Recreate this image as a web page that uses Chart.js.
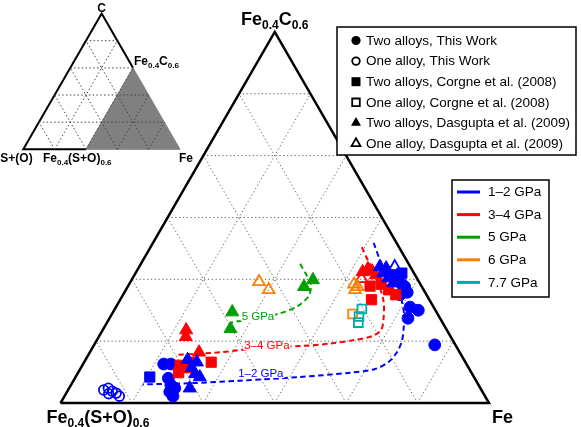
<!DOCTYPE html>
<html lang="en">
<head>
<meta charset="UTF-8">
<title>Fe - C - (S+O) ternary</title>
<script src="https://cdn.jsdelivr.net/npm/chart.js@4/dist/chart.umd.min.js"></script>
<style>
  html, body { margin: 0; padding: 0; background: #fff; }
  #wrap { width: 581px; height: 427px; }
</style>
</head>
<body>
<div id="wrap"><canvas id="tern" width="581" height="427"></canvas></div>
<script>
// compositions, [C, S+O] in at.%
// (apex Fe0.4C0.6 = 60 C, left corner Fe0.4(S+O)0.6 = 60 S+O, right corner = pure Fe)
const twoThis12   = [[6.3,42.4],[6.3,41.4],[4.0,42.9],[2.9,43.1],[1.8,43.8],[1.1,43.7],[2.4,42.8],
                     [19.9,2.8],[19.2,2.6],[18.8,2.4],[17.9,2.5],[17.5,3.7],[15.5,3.3],[15.0,2.4],[13.7,4.5],[9.4,2.9]];
const oneThis12   = [[2.1,52.9],[2.4,52.1],[1.9,51.8],[1.6,51.4],[1.1,51.2],[1.5,52.5]];
const twoCorgne12 = [[4.2,45.4],[21.0,1.7],[20.7,3.2]];
const twoCorgne34 = [[6.1,40.2],[5.7,39.6],[4.9,41.0],[6.6,38.6],[6.6,35.6],
                     [18.9,7.2],[16.7,8.1],[19.2,5.5],[18.3,4.9],[17.5,4.3]];
const oneCorgne6  = [[14.4,11.9]];
const oneCorgne77 = [[15.2,10.2],[14.0,11.2],[13.0,11.8]];
const twoDasg12   = [[7.0,38.7],[6.6,37.6],[5.7,38.8],[4.7,38.8],[4.2,38.4],[2.4,40.7],
                     [22.0,4.3],[21.0,4.3],[20.2,4.0],[19.4,3.7],[21.8,3.5]];
const oneDasg12   = [[22.0,2.2]];
const twoDasg34   = [[11.8,36.5],[10.7,37.1],[8.2,36.5],[21.2,7.1],[21.7,6.1],[21.3,5.7],[20.7,5.5]];
const oneDasg34   = [[20.1,7.8]];
const twoDasg5    = [[14.7,28.6],[12.0,30.2],[18.8,16.5],[19.9,14.7]];
const oneDasg6    = [[19.6,22.4],[18.3,21.7],[19.2,9.3],[18.3,9.6],[18.8,9.0]];

// dashed trends (same units)
const trend12 = [[25.9,3.2],[23.1,3.7],[20.7,3.8],[18.8,3.4],[16.7,3.9],[14.4,4.7],[12.1,5.9],[10.0,7.2],
                 [8.2,8.8],[6.6,10.8],[5.5,13.2],[4.9,17.0],[4.2,24.4],[3.6,33.1],[3.2,40.3],[3.0,47.0]];
const trend34 = [[25.2,5.2],[23.4,5.4],[21.2,5.5],[18.8,5.9],[16.3,6.6],[13.9,7.8],[11.8,9.2],[10.8,11.0],
                 [10.2,13.7],[9.6,17.5],[9.2,21.9],[8.9,27.6],[8.2,33.6],[7.8,39.6]];
const trend5  = [[22.5,15.2],[20.9,15.2],[19.1,15.4],[17.3,16.6],[15.7,18.9],[14.5,22.0],[13.7,25.5],[13.2,28.7],[13.0,29.6]];
const trendLabels = ['1–2 GPa', '3–4 GPa', '5 GPa'];
const trendLabelAt = [[4.7,29.6],[9.2,26.5],[13.9,25.4]];

const markerLegend = ['Two alloys, This Work', 'One alloy, This Work', 'Two alloys, Corgne et al. (2008)',
                      'One alloy, Corgne et al. (2008)', 'Two alloys, Dasgupta et al. (2009)', 'One alloy, Dasgupta et al. (2009)'];
const pressureLegend = ['1–2 GPa', '3–4 GPa', '5 GPa', '6 GPa', '7.7 GPa'];
const pressureColors = ['#0000ff', '#ff0000', '#00a000', '#ff8000', '#00aaaa'];

const H = Math.sqrt(3) / 2;
const FONT = '"Liberation Sans", Arial, sans-serif';

// main triangle frame in pixels (left corner, side length)
const frameLeft = 60.5, frameBottom = 403, frameSide = 428.5;
// inset placement, in main-triangle units
const insetX = -0.0868, insetY = 0.5921, insetS = 0.3657;

function tern(p) {
    const a = p[0] / 60, b = p[1] / 60;
    return { x: 1 - b - a / 2, y: a * H };
}

// ternary grid segments for a unit triangle, n divisions
function gridSegs(n) {
    const segs = [];
    for (let k = 1; k < n; k++) {
        const t = k / n;
        segs.push([[t / 2, t * H], [1 - t / 2, t * H]]);
        segs.push([[t, 0], [(1 + t) / 2, (1 - t) * H]]);
        segs.push([[1 - t, 0], [(1 - t) / 2, (1 - t) * H]]);
    }
    return segs;
}
const inset = (p) => ({ x: insetX + insetS * p[0], y: insetY + insetS * p[1] });

const drawList = []; // bottom first

// main grid
gridSegs(6).forEach(s => drawList.push({
    data: s.map(p => ({ x: p[0], y: p[1] })), showLine: true, borderColor: '#666',
    borderWidth: 1, borderDash: [1.3, 2.5], pointRadius: 0
}));
// inset: outline, grey region, grid
drawList.push({
    data: [[0.4, 0], [0, 0], [0.5, H], [0.7, 0.6 * H]].map(inset), showLine: true,
    borderColor: '#000', borderWidth: 2, pointRadius: 0, borderJoinStyle: 'miter'
});
drawList.push({
    data: [[0.4, 0], [1, 0], [0.7, 0.6 * H], [0.4, 0]].map(inset), showLine: true,
    borderColor: '#808080', borderWidth: 1, backgroundColor: '#808080', fill: 'shape', pointRadius: 0
});
gridSegs(5).forEach(s => drawList.push({
    data: s.map(inset), showLine: true, borderColor: '#444',
    borderWidth: 1, borderDash: [1.5, 2.3], pointRadius: 0
}));
// main outline
drawList.push({
    data: [[0, 0], [1, 0], [0.5, H], [0, 0]].map(p => ({ x: p[0], y: p[1] })), showLine: true,
    borderColor: '#000', borderWidth: 2.5, pointRadius: 0, borderJoinStyle: 'miter'
});
// trends
[[trend12, 0], [trend34, 1], [trend5, 2]].forEach(([t, c]) => drawList.push({
    data: t.map(tern), showLine: true, borderColor: pressureColors[c], borderWidth: 2,
    borderDash: [5.5, 3.5], pointRadius: 0, tension: 0.3
}));

function markers(pts, style, color, open, r) {
    return {
        data: pts.map(tern), showLine: false, pointStyle: style, pointRadius: r,
        backgroundColor: open ? 'rgba(0,0,0,0)' : color, borderColor: color,
        borderWidth: open ? 1.8 : 1
    };
}
drawList.push(markers(oneThis12, 'circle', pressureColors[0], true, 4.8));
drawList.push(markers(twoThis12, 'circle', pressureColors[0], false, 5.9));
drawList.push(markers(twoCorgne34, 'rect', pressureColors[1], false, 7.2));
drawList.push(markers(twoCorgne12, 'rect', pressureColors[0], false, 7.2));
drawList.push(markers(oneCorgne6, 'rect', pressureColors[3], true, 6.2));
drawList.push(markers(oneCorgne77, 'rect', pressureColors[4], true, 6.2));
drawList.push(markers(twoDasg34, 'triangle', pressureColors[1], false, 7.5));
drawList.push(markers(oneDasg34, 'triangle', pressureColors[1], true, 6.8));
drawList.push(markers(twoDasg5, 'triangle', pressureColors[2], false, 7.5));
drawList.push(markers(oneDasg6, 'triangle', pressureColors[3], true, 6.8));
drawList.push(markers(twoDasg12, 'triangle', pressureColors[0], false, 7.5));
drawList.push(markers(oneDasg12, 'triangle', pressureColors[0], true, 6.8));

// first in list is drawn first (higher order = further back)
drawList.forEach((d, i) => { d.order = drawList.length - i; d.clip = false; });

// text with subscripts: parts = [text, isSub]
function rich(ctx, parts, x, y, big, small, align) {
    let w = 0;
    parts.forEach(([t, sub]) => { ctx.font = 'bold ' + (sub ? small : big) + 'px ' + FONT; w += ctx.measureText(t).width; });
    let cx = align === 'center' ? x - w / 2 : x;
    ctx.textAlign = 'left';
    ctx.textBaseline = 'alphabetic';
    parts.forEach(([t, sub]) => {
        ctx.font = 'bold ' + (sub ? small : big) + 'px ' + FONT;
        ctx.fillText(t, cx, sub ? y + big * 0.22 : y);
        cx += ctx.measureText(t).width;
    });
}

function legendMark(ctx, kind, x, y) {
    const open = kind % 2 === 1;
    ctx.beginPath();
    if (kind < 2) {
        ctx.arc(x, y, open ? 3.8 : 4.6, 0, Math.PI * 2);
    } else if (kind < 4) {
        const s = open ? 3.8 : 4.5;
        ctx.rect(x - s, y - s, 2 * s, 2 * s);
    } else {
        const r = open ? 5.2 : 5.8;
        ctx.moveTo(x, y - r);
        ctx.lineTo(x + r * H, y + r / 2);
        ctx.lineTo(x - r * H, y + r / 2);
        ctx.closePath();
    }
    if (open) { ctx.lineWidth = 1.8; ctx.strokeStyle = '#000'; ctx.stroke(); }
    else { ctx.fillStyle = '#000'; ctx.fill(); }
}

const decor = {
    id: 'decor',
    afterDatasetsDraw(chart) {
        const ctx = chart.ctx, sx = chart.scales.x, sy = chart.scales.y;
        const px = (p) => [sx.getPixelForValue(p.x), sy.getPixelForValue(p.y)];
        ctx.save();
        ctx.fillStyle = '#000';

        // corner labels, main triangle
        const [tx, ty] = px({ x: 0.5, y: H });
        rich(ctx, [['Fe', 0], ['0.4', 1], ['C', 0], ['0.6', 1]], tx, ty - 7, 18, 12, 'center');
        const [lx, ly] = px({ x: 0, y: 0 });
        rich(ctx, [['Fe', 0], ['0.4', 1], ['(S+O)', 0], ['0.6', 1]], lx - 14, ly + 20, 18, 12, 'left');
        const [rx, ry] = px({ x: 1, y: 0 });
        rich(ctx, [['Fe', 0]], rx + 3, ry + 20, 18, 12, 'left');

        // inset labels
        const [ix0, iy0] = px(inset([0, 0]));
        const [ix1] = px(inset([1, 0]));
        const [icx, icy] = px(inset([0.5, H]));
        const [isx] = px(inset([0.4, 0]));
        const [ifx, ify] = px(inset([0.7, 0.6 * H]));
        rich(ctx, [['C', 0]], icx, icy - 2, 12, 8, 'center');
        rich(ctx, [['S+(O)', 0]], ix0 - 23, iy0 + 13, 12, 8, 'left');
        rich(ctx, [['Fe', 0], ['0.4', 1], ['(S+O)', 0], ['0.6', 1]], isx - 43, iy0 + 13, 12, 8, 'left');
        rich(ctx, [['Fe', 0]], ix1 - 1, iy0 + 13, 12, 8, 'left');
        rich(ctx, [['Fe', 0], ['0.4', 1], ['C', 0], ['0.6', 1]], ifx + 1, ify - 3, 12, 8, 'left');

        // labels on the trend lines
        ctx.font = '11.5px ' + FONT;
        ctx.textAlign = 'center';
        ctx.textBaseline = 'middle';
        trendLabels.forEach((t, i) => {
            const [x, y] = px(tern(trendLabelAt[i]));
            const w = ctx.measureText(t).width;
            ctx.fillStyle = '#fff';
            ctx.fillRect(x - w / 2 - 1, y - 4, w + 2, 8);
            ctx.fillStyle = pressureColors[i];
            ctx.fillText(t, x, y);
        });

        // symbol legend
        ctx.fillStyle = '#fff';
        ctx.fillRect(337, 27, 239, 128);
        ctx.lineWidth = 1.5;
        ctx.strokeStyle = '#000';
        ctx.strokeRect(337, 27, 239, 128);
        ctx.font = '13.5px ' + FONT;
        ctx.textAlign = 'left';
        ctx.textBaseline = 'middle';
        markerLegend.forEach((t, i) => {
            const y = 40.5 + i * 20.6;
            legendMark(ctx, i, 356, y);
            ctx.fillStyle = '#000';
            ctx.fillText(t, 366, y + 0.5);
        });

        // pressure legend
        ctx.fillStyle = '#fff';
        ctx.fillRect(452, 180, 97, 117);
        ctx.lineWidth = 1.5;
        ctx.strokeStyle = '#000';
        ctx.strokeRect(452, 180, 97, 117);
        ctx.font = '13.5px ' + FONT;
        pressureLegend.forEach((t, i) => {
            const y = 192 + i * 22.6;
            ctx.strokeStyle = pressureColors[i];
            ctx.lineWidth = 3;
            ctx.beginPath();
            ctx.moveTo(457, y);
            ctx.lineTo(480, y);
            ctx.stroke();
            ctx.fillStyle = '#000';
            ctx.fillText(t, 488, y + 0.5);
        });
        ctx.restore();
    }
};

new Chart(document.getElementById('tern'), {
    type: 'scatter',
    data: { datasets: drawList },
    options: {
        responsive: false,
        animation: false,
        layout: { padding: 0, autoPadding: false },
        scales: {
            x: { display: false, min: -frameLeft / frameSide, max: (581 - frameLeft) / frameSide },
            y: { display: false, min: -(427 - frameBottom) / frameSide, max: frameBottom / frameSide }
        },
        plugins: { legend: { display: false }, tooltip: { enabled: false } }
    },
    plugins: [decor]
});
</script>
</body>
</html>
